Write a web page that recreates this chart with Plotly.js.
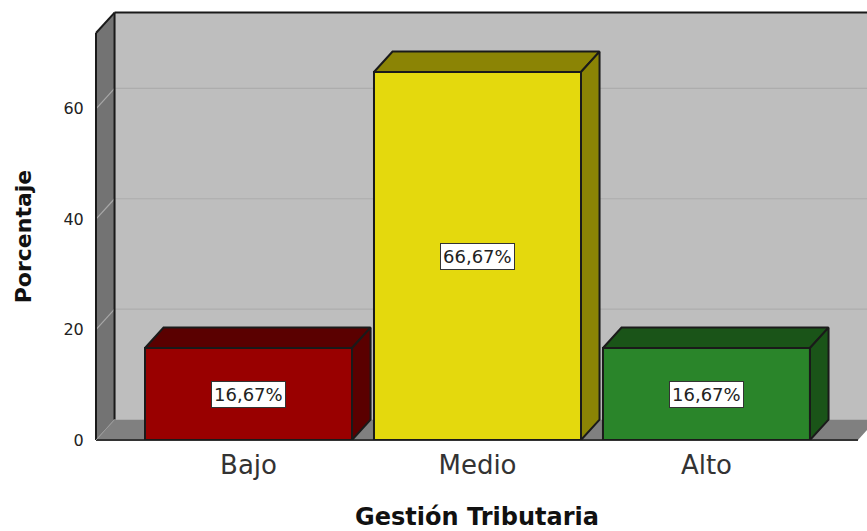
<!DOCTYPE html>
<html><head><meta charset="utf-8">
<script src="https://cdn.plot.ly/plotly-3.0.1.min.js"></script>
<style>html,body{margin:0;padding:0;background:#fff;overflow:hidden}#c{width:867px;height:531px}</style>
</head><body><div id="c"></div>
<script>
const categories = ["Bajo", "Medio", "Alto"];
const percentages = [16.67, 66.67, 16.67];
const barLabels = ["16,67%", "66,67%", "16,67%"];
const frontColors = ["#990000", "#e4d90d", "#2a852a"];
const sideColors = ["#5a0000", "#8b8405", "#1a5418"];
const yTicks = [0, 20, 40, 60];

const xRange = [-0.666, 2.6616], yRange = [0, 73.73];
const domX = 0.9883, domY = 0.9465;
const depthX = 0.081, depthY = 3.7, barW = 0.904;
const edge = "#1a1a1a";
const px = v => (v - xRange[0]) / (xRange[1] - xRange[0]) * domX;
const py = v => (v - yRange[0]) / (yRange[1] - yRange[0]) * domY;
const poly = (pts, fill, lineColor, lineW) => ({
  type: "path", xref: "paper", yref: "paper", layer: "below",
  path: "M" + pts.map(p => px(p[0]) + "," + py(p[1])).join("L") + "Z",
  fillcolor: fill, line: {color: lineColor || "rgba(0,0,0,0)", width: lineW || 0}
});
const seg = (a, b, color, w) => ({
  type: "line", xref: "paper", yref: "paper", layer: "below",
  x0: px(a[0]), y0: py(a[1]), x1: px(b[0]), y1: py(b[1]), line: {color, width: w}
});
const L = xRange[0], R = xRange[1], T = yRange[1];
const shapes = [
  poly([[L+depthX,depthY],[R+depthX,depthY],[R+depthX,T+depthY],[L+depthX,T+depthY]], "#bebebe"),
  poly([[L,0],[L+depthX,depthY],[L+depthX,T+depthY],[L,T]], "#737373"),
  poly([[L,0],[R,0],[R+depthX,depthY],[L+depthX,depthY]], "#808080"),
];
yTicks.slice(1).forEach(t => {
  shapes.push(seg([L+depthX,t+depthY],[R+depthX,t+depthY],"#adadad",1.2));
  shapes.push(seg([L,t],[L+depthX,t+depthY],"#a8a8a8",1.2));
});
shapes.push(seg([L+depthX,depthY],[L+depthX,T+depthY],edge,2));
shapes.push(seg([L,0],[L,T],edge,2));
shapes.push(seg([L,T],[L+depthX,T+depthY],edge,2));
shapes.push(seg([L+depthX,T+depthY],[R+depthX,T+depthY],edge,2));
shapes.push(seg([L,0],[R,0],"#333333",2));
shapes.push(seg([L,0],[L+depthX,depthY],"#9a9a9a",1));

const xs = categories.map((_, i) => i);
const traces = [{
  type: "bar", x: xs, y: percentages, width: barW,
  marker: {color: frontColors, line: {color: edge, width: 2}},
  hoverinfo: "skip", showlegend: false
}];
percentages.forEach((v, i) => {
  const l = i - barW/2, r = i + barW/2;
  const face = pts => ({
    type: "scatter", mode: "lines", fill: "toself", cliponaxis: false,
    x: pts.map(p => p[0]), y: pts.map(p => p[1]),
    fillcolor: sideColors[i], line: {color: edge, width: 2},
    hoverinfo: "skip", showlegend: false
  });
  traces.push(face([[l,v],[l+depthX,v+depthY],[r+depthX,v+depthY],[r,v],[l,v]]));
  traces.push(face([[r,0],[r+depthX,depthY],[r+depthX,v+depthY],[r,v],[r,0]]));
});
const layout = {
  width: 867, height: 531,
  margin: {l: 96, r: 0, t: 10, b: 91, pad: 0},
  paper_bgcolor: "#ffffff", plot_bgcolor: "rgba(0,0,0,0)",
  showlegend: false, shapes,
  xaxis: {
    domain: [0, domX], range: xRange, tickmode: "array", tickvals: xs, ticktext: categories,
    showgrid: false, zeroline: false, showline: false, ticks: "outside", ticklen: 2, tickcolor: "rgba(0,0,0,0)",
    tickfont: {family: "DejaVu Sans, sans-serif", size: 26, color: "#333333"},
    title: {text: "Gestión Tributaria", standoff: 33, font: {family: "DejaVu Sans, sans-serif", size: 24, color: "#111111", weight: "bold"}}
  },
  yaxis: {
    domain: [0, domY], range: yRange, tickmode: "array", tickvals: yTicks,
    showgrid: false, zeroline: false, showline: false, ticks: "outside", ticklen: 8, tickcolor: "rgba(0,0,0,0)",
    tickfont: {family: "DejaVu Sans, sans-serif", size: 16, color: "#222222"},
    title: {text: "Porcentaje", standoff: 25, font: {family: "DejaVu Sans, sans-serif", size: 22, color: "#111111", weight: "bold"}}
  },
  annotations: percentages.map((v, i) => ({
    x: i, y: v/2, xref: "x", yref: "y", yshift: -0.5, text: barLabels[i], showarrow: false,
    bgcolor: "#ffffff", bordercolor: "#333333", borderwidth: 1, borderpad: 2,
    font: {family: "DejaVu Sans, sans-serif", size: 18, color: "#222222"}
  }))
};
Plotly.newPlot("c", traces, layout, {displayModeBar: false, staticPlot: true});
</script></body></html>
